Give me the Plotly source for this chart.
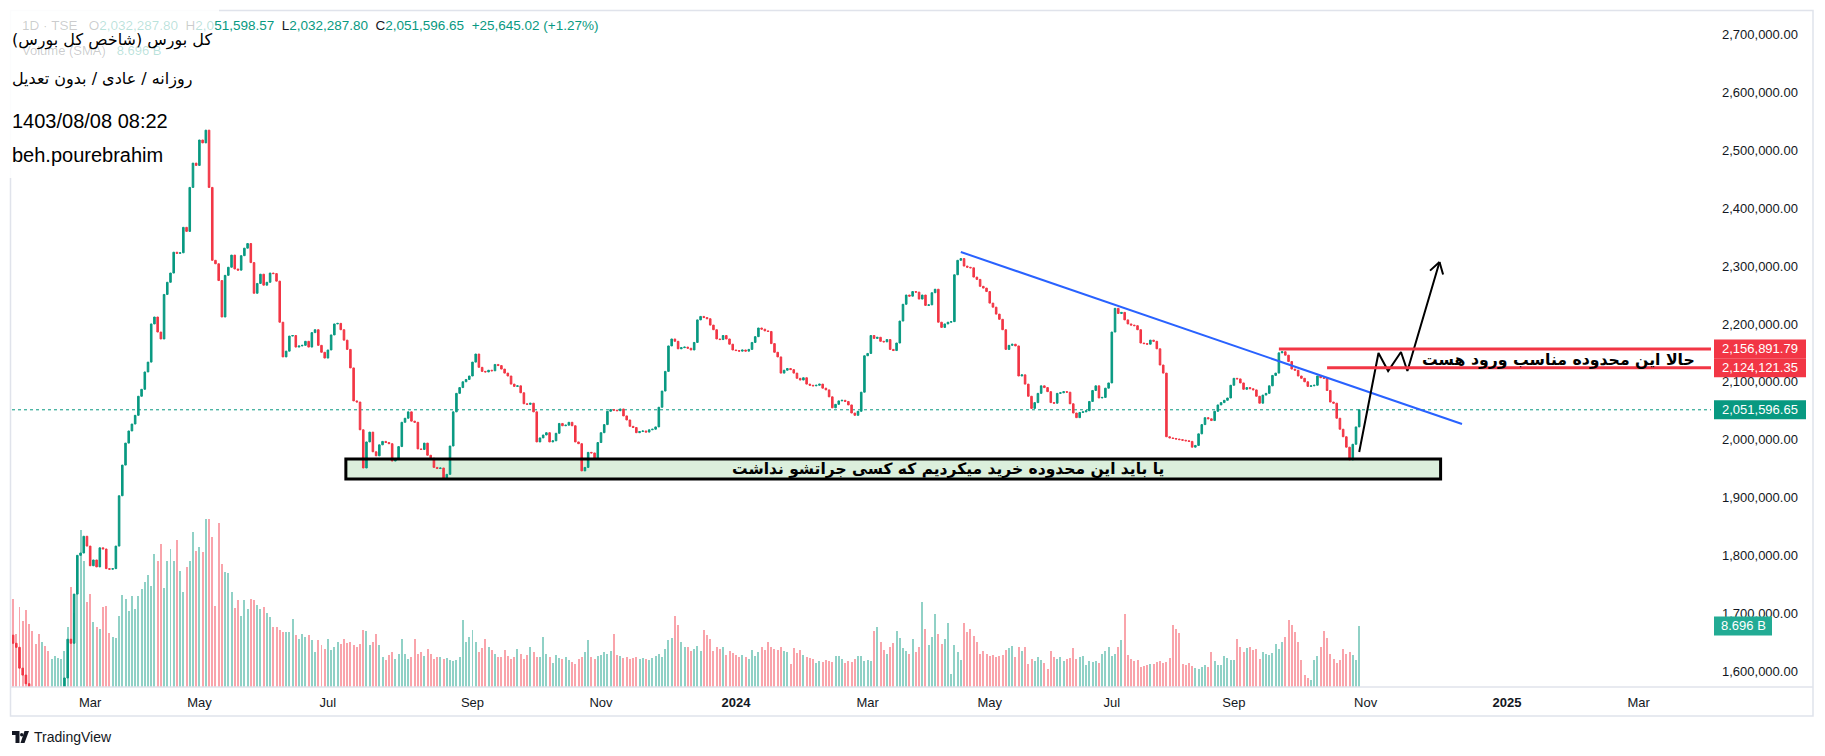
import pandas as pd
import plotly.graph_objects as go

# ---------------- data ----------------
# daily closes of the TSE total index, in thousands of points
CLOSE_K = [
    1648, 1641, 1605, 1593, 1578, 1566, 1552, 1540, 1531, 1545,
    1524, 1512, 1528, 1541, 1556, 1562, 1588, 1655, 1648, 1733,
    1800, 1804, 1833, 1816, 1782, 1792, 1780, 1813, 1811, 1777,
    1776, 1777, 1816, 1903, 1956, 1994, 2015, 2027, 2042, 2075,
    2087, 2117, 2134, 2200, 2212, 2186, 2174, 2251, 2272, 2288,
    2324, 2322, 2323, 2367, 2360, 2436, 2478, 2474, 2518, 2513,
    2535, 2436, 2310, 2304, 2275, 2212, 2284, 2298, 2319, 2295,
    2293, 2318, 2331, 2339, 2306, 2253, 2270, 2286, 2267, 2272,
    2288, 2287, 2274, 2203, 2143, 2153, 2179, 2180, 2160, 2162,
    2163, 2170, 2160, 2185, 2190, 2163, 2151, 2141, 2155, 2181,
    2200, 2201, 2190, 2172, 2156, 2124, 2067, 2065, 2017, 1951,
    1996, 2013, 1979, 1972, 1991, 1997, 1995, 1993, 1963, 1967,
    1988, 2030, 2037, 2048, 2032, 2030, 1984, 1983, 1994, 1973,
    1968, 1952, 1950, 1951, 1932, 1940, 1989, 2048, 2080, 2090,
    2100, 2104, 2110, 2134, 2148, 2125, 2118, 2117, 2120, 2119,
    2130, 2128, 2122, 2115, 2110, 2096, 2092, 2093, 2081, 2062,
    2061, 2063, 2048, 1996, 2003, 2008, 2012, 1996, 1998, 2011,
    2028, 2024, 2025, 2030, 2024, 1996, 1993, 1946, 1952, 1978,
    1977, 1966, 1995, 2012, 2026, 2049, 2052, 2051, 2050, 2053,
    2041, 2034, 2023, 2021, 2012, 2014, 2015, 2013, 2017, 2018,
    2022, 2056, 2084, 2118, 2162, 2174, 2170, 2157, 2159, 2160,
    2158, 2155, 2168, 2207, 2213, 2211, 2209, 2198, 2190, 2174,
    2173, 2180, 2174, 2165, 2155, 2154, 2153, 2155, 2153, 2156,
    2168, 2178, 2193, 2191, 2188, 2187, 2166, 2151, 2143, 2115,
    2120, 2123, 2121, 2115, 2106, 2103, 2107, 2096, 2094, 2093,
    2094, 2096, 2089, 2086, 2074, 2055, 2061, 2067, 2068, 2066,
    2060, 2046, 2042, 2049, 2082, 2145, 2149, 2180, 2175, 2177,
    2170, 2169, 2173, 2156, 2154, 2167, 2205, 2234, 2250, 2248,
    2256, 2255, 2243, 2250, 2232, 2233, 2254, 2260, 2203, 2194,
    2200, 2203, 2204, 2285, 2310, 2313, 2300, 2298, 2297, 2281,
    2277, 2265, 2262, 2256, 2236, 2229, 2217, 2208, 2190, 2156,
    2163, 2165, 2162, 2110, 2112, 2096, 2075, 2054, 2064, 2080,
    2093, 2090, 2083, 2064, 2063, 2080, 2081, 2083, 2082, 2062,
    2046, 2038, 2047, 2048, 2050, 2066, 2085, 2093, 2072, 2073,
    2089, 2098, 2186, 2227, 2218, 2220, 2207, 2200, 2198, 2197,
    2190, 2167, 2166, 2165, 2172, 2170, 2157, 2129, 2115, 2005,
    2003, 2002, 2001, 2000, 1999, 1998, 1997, 1987, 1990, 2010,
    2026, 2038, 2036, 2033, 2049, 2060, 2064, 2068, 2072, 2094,
    2106, 2105, 2098, 2087, 2090, 2088, 2086, 2075, 2063, 2077,
    2080, 2093, 2111, 2115, 2150, 2152, 2146, 2135, 2122, 2120,
    2110, 2106, 2100, 2092, 2093, 2094, 2110, 2107, 2106, 2085,
    2065, 2063, 2037, 2018, 2005, 1987, 1965, 1992, 2022, 2051.59665,
]
FIRST_OPEN_K = 1662

# daily traded volume, billions
VOLUME_B = [
    12.6, 7.6, 11.4, 9.4, 11.0, 9.0, 8.0, 6.1, 7.6, 6.4,
    5.9, 5.1, 4.0, 4.4, 4.1, 4.0, 5.1, 8.6, 14.3, 10.6,
    13.4, 22.4, 17.9, 12.1, 13.3, 9.3, 8.6, 8.3, 11.4, 11.6,
    7.7, 7.1, 7.0, 10.1, 13.1, 12.6, 10.9, 13.0, 11.1, 13.0,
    14.0, 15.0, 15.9, 14.4, 19.0, 17.9, 20.4, 14.1, 18.0, 19.7,
    17.9, 20.9, 16.6, 13.6, 17.1, 17.9, 22.1, 19.4, 19.9, 19.3,
    23.9, 24.0, 21.4, 11.6, 23.4, 17.6, 16.4, 16.3, 13.6, 11.3,
    12.4, 10.1, 12.4, 11.1,
    12.6, 12.4, 11.7, 11.1, 11.4, 10.6, 10.0, 8.6, 8.6, 8.1, 7.9, 7.9,
    7.9, 9.7, 7.4, 6.9, 7.6, 7.1, 7.4, 6.7, 5.0, 6.7, 6.0, 5.4,
    6.9, 5.3, 5.7, 6.4, 6.1, 6.9, 6.3, 6.4, 6.0, 5.7, 6.1, 8.1,
    8.0, 6.0, 6.4, 7.6,
    6.0, 4.3, 3.9, 4.6, 5.0, 4.0, 4.7, 6.9, 4.7, 4.0, 4.3, 6.9,
    4.7, 5.0, 4.4, 5.4, 4.7, 4.0, 4.3, 4.3, 4.0, 4.1, 3.9, 3.7, 3.9, 4.3,
    9.6, 6.4, 7.1, 8.1, 6.4, 5.0, 5.6, 6.9, 5.7, 5.3, 4.7, 4.3,
    4.3, 5.3, 4.4, 4.0, 4.3, 5.4, 4.7, 4.0, 4.6, 5.7, 5.0, 4.3,
    4.3, 7.1, 4.7, 4.3, 3.4, 4.6, 4.1, 4.0, 4.3, 3.9, 3.6, 3.3,
    4.0, 4.3, 5.0, 6.7, 4.3, 4.0, 4.4, 4.6, 5.0, 4.7, 5.1, 7.6,
    4.6, 4.4, 4.1, 4.3, 4.0, 4.1, 4.3, 4.0, 4.1, 4.0,
    3.9, 4.1, 4.4, 4.7, 4.3, 5.4, 6.7, 7.0, 10.1, 8.9, 6.4, 5.7,
    5.7, 5.1, 5.4, 5.9, 5.1, 8.1, 7.4, 6.9, 5.1, 5.7, 5.4, 5.7,
    4.6, 5.1, 4.9, 4.6, 4.3, 4.6, 4.3, 4.0, 5.3, 4.4, 5.0, 5.7,
    5.3, 6.4, 5.7, 5.4, 5.3, 5.7, 5.1, 5.0, 3.3, 5.6, 4.9, 5.3,
    4.6, 4.3, 4.1, 4.0, 3.4, 3.7, 3.6, 3.9, 3.7, 3.6,
    4.4, 4.4, 4.0, 3.4, 3.7, 3.6, 4.0, 4.4, 4.4, 3.7, 3.9, 3.7,
    8.0, 8.6, 6.4, 5.3, 4.7, 5.7, 6.3, 8.0, 7.0, 5.6, 5.1, 4.7,
    6.9, 5.0, 5.7, 12.1, 8.3, 6.0, 7.1, 10.4, 7.6, 6.1, 6.9, 9.1,
    1.9, 6.0, 5.0, 3.9, 9.1, 7.9, 8.3, 7.3, 6.4, 4.7, 5.1, 4.7,
    4.4, 4.6, 4.3, 4.4, 4.6, 5.3, 5.6, 5.9, 4.3, 5.7, 5.1, 5.7,
    3.3, 4.0, 3.7, 4.3, 3.9, 3.4,
    2.6, 5.1, 4.3, 4.0, 4.3, 3.7, 4.0, 4.1, 5.6, 4.0, 4.3, 4.4,
    3.1, 3.7, 3.6, 3.7, 3.4, 4.7, 5.1, 5.7, 4.4, 4.7, 5.7, 6.7,
    10.4, 4.6, 4.0, 3.7, 3.9, 2.9, 3.0, 3.1, 3.3, 3.3, 3.6, 3.7, 3.4, 3.6,
    4.1, 8.9, 8.3, 7.7, 3.3, 3.1, 3.4, 3.0, 2.7, 2.6, 2.9, 3.1,
    2.9, 5.0, 3.7, 3.1, 3.1, 4.4, 4.1, 3.9, 3.9, 6.9, 5.7, 5.0,
    5.6, 5.7, 5.3, 5.4, 4.0, 5.0, 4.7, 4.6, 4.9,
    6.1, 5.4, 6.4, 7.1, 9.6, 8.9, 7.9, 6.4, 3.9, 1.7, 1.3, 1.0,
    3.9, 4.4, 5.7, 8.0, 7.0, 4.7, 4.0, 3.4, 3.9, 5.4, 4.7, 5.0,
    4.6, 3.9, 8.696,
]

LAST_DATE = "2024-10-29"          # 1403/08/08
WEEKMASK = "Sat Sun Mon Tue Wed"  # Tehran exchange sessions
HOLIDAYS = [
    "2023-02-04", "2023-02-11", "2023-02-18", "2023-03-07", "2023-03-20",
    "2023-03-21", "2023-03-22", "2023-04-01", "2023-04-02", "2023-04-12",
    "2023-04-22", "2023-04-23", "2023-05-16", "2023-06-04", "2023-06-05",
    "2023-09-06", "2023-09-16", "2023-09-24", "2023-10-03", "2023-12-17",
    "2024-02-11", "2024-02-25", "2024-03-19", "2024-03-20", "2024-03-23",
    "2024-03-31", "2024-04-01", "2024-04-10", "2024-05-04", "2024-06-03",
    "2024-06-04", "2024-06-17", "2024-06-25", "2024-07-15", "2024-07-16",
    "2024-08-04", "2024-08-05", "2024-08-21", "2024-08-25", "2024-09-02",
    "2024-09-04", "2024-09-21",
]

TICK_MONTHS = ["2023-03", "2023-05", "2023-07", "2023-09", "2023-11", "2024-01",
               "2024-03", "2024-05", "2024-07", "2024-09", "2024-11", "2025-01", "2025-03"]
TICK_TEXT = ["Mar", "May", "Jul", "Sep", "Nov", "<b>2024</b>",
             "Mar", "May", "Jul", "Sep", "Nov", "<b>2025</b>", "Mar"]
PRICE_TICKS = [1600000, 1700000, 1800000, 1900000, 2000000, 2100000,
               2200000, 2300000, 2400000, 2500000, 2600000, 2700000]

LAST_PRICE = 2051596.65
LEVELS = [2156891.79, 2124121.35]
VOLUME_LABEL = "8.696 B"

# drawings (bar index on the time scale, price)
TREND = [(295, 2324400), (451, 2027000)]
LEVEL_START = [394, 409]
ZONE = dict(i0=104, i1=444, top=1966400, bottom=1931800)
ZONE_TEXT = "یا باید این محدوده خرید میکردیم که کسی جراتشو نداشت"
ZONE_TEXT_AT = (291, 1949300)
ENTRY_TEXT = "حالا این محدوده مناسب ورود هست"
ENTRY_TEXT_AT = (481, 2139300)
ARROW_IDX = [419, 425, 428, 432, 434, 444]
ARROW_PRICE = [1978700, 2149700, 2118600, 2151500, 2118600, 2307100]

TITLE_LINES = ["(کل بورس (شاخص کل بورس", "روزانه / عادی / بدون تعدیل", "1403/08/08 08:22", "beh.pourebrahim"]

# ---------------- build ----------------
GREEN = "#089981"
RED = "#F23645"
TXT = "#131722"

n = len(CLOSE_K)
past = pd.bdate_range(end=LAST_DATE, periods=n, freq="C", weekmask=WEEKMASK, holidays=HOLIDAYS)
future = pd.bdate_range(start=pd.Timestamp(LAST_DATE) + pd.Timedelta(days=1), periods=160,
                        freq="C", weekmask=WEEKMASK)
axis_dates = list(past) + list(future)

close = [v * 1000 for v in CLOSE_K]
open_ = [FIRST_OPEN_K * 1000] + close[:-1]
high = [max(a, b) for a, b in zip(open_, close)]
low = [min(a, b) for a, b in zip(open_, close)]

m = min(len(VOLUME_B), n)
vol = VOLUME_B[-m:]
vol_dates = list(past)[-m:]
vol_colors = ["rgba(8,153,129,0.45)" if c >= o else "rgba(242,54,69,0.45)"
              for o, c in zip(open_[-m:], close[-m:])]

W, H = 1825, 756
ML, MR, MT, MB = 12, 114, 10, 69
PW, PH = W - ML - MR, H - MT - MB


def px(x):
    return (x - ML) / PW


def py(y):
    return (H - MB - y) / PH


def d(i, hours=0):
    return axis_dates[i] + pd.Timedelta(hours=hours)


fig = go.Figure()
fig.add_trace(go.Bar(x=vol_dates, y=vol, marker=dict(color=vol_colors, line=dict(width=0)),
                     width=0.62 * 86400000, yaxis="y", hoverinfo="skip", showlegend=False))
fig.add_trace(go.Candlestick(
    x=list(past), open=open_, high=high, low=low, close=close, yaxis="y2",
    increasing=dict(line=dict(color=GREEN, width=1), fillcolor=GREEN),
    decreasing=dict(line=dict(color=RED, width=1), fillcolor=RED),
    whiskerwidth=0, hoverinfo="skip", showlegend=False))

# trend line
fig.add_trace(go.Scatter(x=[d(TREND[0][0]), d(TREND[1][0])], y=[TREND[0][1], TREND[1][1]],
                         mode="lines", line=dict(color="#2962FF", width=2), yaxis="y2",
                         hoverinfo="skip", showlegend=False))
# arrow path
fig.add_trace(go.Scatter(x=[d(i) for i in ARROW_IDX], y=ARROW_PRICE, mode="lines",
                         line=dict(color="#000000", width=2), yaxis="y2",
                         hoverinfo="skip", showlegend=False))

xr0 = d(0, -8)
xr1 = d(528, 12)

shapes = []
annotations = []

# zone rectangle
shapes.append(dict(type="rect", xref="x", yref="y2", x0=d(ZONE["i0"], -10), x1=d(ZONE["i1"], 8),
                   y0=ZONE["bottom"], y1=ZONE["top"], fillcolor="rgba(76,175,80,0.2)",
                   line=dict(width=0), layer="below"))
shapes.append(dict(type="rect", xref="x", yref="y2", x0=d(ZONE["i0"], -10), x1=d(ZONE["i1"], 8),
                   y0=ZONE["bottom"], y1=ZONE["top"], fillcolor="rgba(0,0,0,0)",
                   line=dict(color="#000000", width=3), layer="above"))
# horizontal levels
for lv, i0 in zip(LEVELS, LEVEL_START):
    shapes.append(dict(type="line", xref="x", yref="y2", x0=d(i0), x1=xr1, y0=lv, y1=lv,
                       line=dict(color=RED, width=3), layer="above"))
# last price dotted line
shapes.append(dict(type="line", xref="paper", yref="y2", x0=0, x1=1, y0=LAST_PRICE, y1=LAST_PRICE,
                   line=dict(color=GREEN, width=1, dash="dot"), layer="below"))

# arrow head
annotations.append(dict(x=d(ARROW_IDX[-1]), y=ARROW_PRICE[-1], xref="x", yref="y2", text="",
                        showarrow=True, arrowhead=0, arrowwidth=2, arrowcolor="#000000",
                        ax=-11, ay=10, axref="pixel", ayref="pixel"))
annotations.append(dict(x=d(ARROW_IDX[-1]), y=ARROW_PRICE[-1], xref="x", yref="y2", text="",
                        showarrow=True, arrowhead=0, arrowwidth=2, arrowcolor="#000000",
                        ax=4, ay=14, axref="pixel", ayref="pixel"))

annotations.append(dict(x=d(ZONE_TEXT_AT[0]), y=ZONE_TEXT_AT[1], xref="x", yref="y2",
                        text="<b>" + ZONE_TEXT + "</b>", showarrow=False,
                        font=dict(family="DejaVu Sans", size=15.5, color="#000000"),
                        xanchor="center", yanchor="middle"))
annotations.append(dict(x=d(ENTRY_TEXT_AT[0]), y=ENTRY_TEXT_AT[1], xref="x", yref="y2",
                        text="<b>" + ENTRY_TEXT + "</b>", showarrow=False,
                        font=dict(family="DejaVu Sans", size=15.7, color="#000000"),
                        xanchor="center", yanchor="middle"))

# outer frame and time-scale separator
shapes.append(dict(type="rect", xref="paper", yref="paper", x0=px(10.5), x1=px(1813), y0=py(716),
                   y1=py(10.5), line=dict(color="#e0e3eb", width=1.5), fillcolor="rgba(0,0,0,0)",
                   layer="above"))
shapes.append(dict(type="line", xref="paper", yref="paper", x0=px(10.5), x1=px(1813), y0=py(687),
                   y1=py(687), line=dict(color="#e0e3eb", width=1.5), layer="above"))

# text-note backgrounds (top-left)
for (x0, x1, y0, y1) in [(0, 219, 0, 62), (0, 200, 62, 100), (0, 174, 100, 140), (0, 170, 140, 178)]:
    shapes.append(dict(type="rect", xref="paper", yref="paper", x0=px(x0), x1=px(x1), y0=py(y1),
                       y1=py(y0), fillcolor="rgba(255,255,255,0.88)", line=dict(width=0),
                       layer="above"))

# right-scale labels
LAB_H = 32800
for lv, yc in zip(LEVELS, [LEVELS[0], LEVELS[0] - LAB_H]):
    shapes.append(dict(type="rect", xref="paper", yref="y2", x0=px(1714), x1=px(1806),
                       y0=yc - LAB_H / 2, y1=yc + LAB_H / 2, fillcolor=RED,
                       line=dict(width=0), layer="above"))
    annotations.append(dict(x=px(1760), y=yc, xref="paper", yref="y2", showarrow=False,
                            text=f"{lv:,.2f}", font=dict(family="Liberation Sans", size=13, color="white"),
                            xanchor="center", yanchor="middle"))
shapes.append(dict(type="rect", xref="paper", yref="y2", x0=px(1714), x1=px(1806),
                   y0=LAST_PRICE - LAB_H / 2, y1=LAST_PRICE + LAB_H / 2, fillcolor=GREEN,
                   line=dict(width=0), layer="above"))
annotations.append(dict(x=px(1760), y=LAST_PRICE, xref="paper", yref="y2", showarrow=False,
                        text=f"{LAST_PRICE:,.2f}", font=dict(family="Liberation Sans", size=13, color="white"),
                        xanchor="center", yanchor="middle"))
VH = 2.7
shapes.append(dict(type="rect", xref="paper", yref="y", x0=px(1714), x1=px(1772),
                   y0=vol[-1] - VH / 2, y1=vol[-1] + VH / 2, fillcolor="#22ab94",
                   line=dict(width=0), layer="above"))
annotations.append(dict(x=px(1743), y=vol[-1], xref="paper", yref="y", showarrow=False,
                        text=VOLUME_LABEL, font=dict(family="Liberation Sans", size=13, color="white"),
                        xanchor="center", yanchor="middle"))

# header legend line
FADE = "rgba(19,23,34,0.22)"
FADE_G = "rgba(8,153,129,0.28)"


def sp(t, c):
    return f'<span style="color:{c}">{t}</span>'


NB = "\u00a0"
hdr = (sp("1D" + NB + "·" + NB + "TSE" + NB * 3, FADE) + sp("O", FADE) + sp("2,032,287.80" + NB * 2, FADE_G)
       + sp("H", FADE) + sp("2,0", FADE_G) + sp("51,598.57" + NB * 2, GREEN)
       + sp("L", TXT) + sp("2,032,287.80" + NB * 2, GREEN)
       + sp("C", TXT) + sp("2,051,596.65" + NB * 2, GREEN)
       + sp("+25,645.02 (+1.27%)", GREEN))
annotations.append(dict(x=px(20), y=py(26), xref="paper", yref="paper", text=hdr, showarrow=False,
                        xanchor="left", yanchor="middle", font=dict(family="Liberation Sans", size=13.5)))
annotations.append(dict(x=px(20), y=py(50), xref="paper", yref="paper",
                        text=sp("Volume (SMA)" + NB * 3, FADE) + sp("8.696 B", FADE_G), showarrow=False,
                        xanchor="left", yanchor="middle", font=dict(family="Liberation Sans", size=13)))

# title notes
for txt, yy, fam, size in [(TITLE_LINES[0], 40, "DejaVu Sans", 16), (TITLE_LINES[1], 79, "DejaVu Sans", 16),
                           (TITLE_LINES[2], 121, "Liberation Sans", 20), (TITLE_LINES[3], 155, "Liberation Sans", 20)]:
    annotations.append(dict(x=px(10), y=py(yy), xref="paper", yref="paper", text=txt, showarrow=False,
                            xanchor="left", yanchor="middle", font=dict(family=fam, size=size, color="#000000")))

# TradingView logo
shapes.append(dict(type="path", xref="paper", yref="paper",
                   path=f"M {px(12)},{py(731)} L {px(19.5)},{py(731)} L {px(19.5)},{py(743)} L {px(15.5)},{py(743)} "
                        f"L {px(15.5)},{py(735)} L {px(12)},{py(735)} Z",
                   fillcolor="#131722", line=dict(width=0)))
shapes.append(dict(type="circle", xref="paper", yref="paper", x0=px(20), x1=px(23.4), y0=py(736.5), y1=py(733),
                   fillcolor="#131722", line=dict(width=0)))
shapes.append(dict(type="path", xref="paper", yref="paper",
                   path=f"M {px(24.5)},{py(731)} L {px(29)},{py(731)} L {px(24.5)},{py(743)} L {px(20.5)},{py(743)} Z",
                   fillcolor="#131722", line=dict(width=0)))
annotations.append(dict(x=px(32), y=py(737), xref="paper", yref="paper", text="TradingView", showarrow=False,
                        xanchor="left", yanchor="middle", font=dict(family="Liberation Sans", size=14, color=TXT)))

tickvals = []
for mth in TICK_MONTHS:
    tickvals.append(next(dd for dd in axis_dates if dd.strftime("%Y-%m") == mth))

fig.update_layout(
    width=W, height=H, margin=dict(l=ML, r=MR, t=MT, b=MB, pad=0),
    paper_bgcolor="white", plot_bgcolor="white", showlegend=False, bargap=0,
    xaxis=dict(type="date", range=[xr0, xr1], rangeslider=dict(visible=False),
               rangebreaks=[dict(bounds=[4, 6], pattern="day of week"), dict(values=HOLIDAYS)],
               tickvals=tickvals, ticktext=TICK_TEXT, showgrid=False, zeroline=False, showline=False,
               ticks="", ticklabelstandoff=6, tickfont=dict(family="Liberation Sans", size=13, color=TXT)),
    yaxis=dict(range=[0, 96.5], visible=False, fixedrange=True),
    yaxis2=dict(overlaying="y", side="right", range=[1572400, 2742700], tickvals=PRICE_TICKS,
                tickformat=",.2f", showgrid=False, zeroline=False, showline=False, ticks="",
                ticklabelstandoff=10, tickfont=dict(family="Liberation Sans", size=13, color=TXT)),
    shapes=shapes, annotations=annotations,
)

fig.write_html("out.html")
